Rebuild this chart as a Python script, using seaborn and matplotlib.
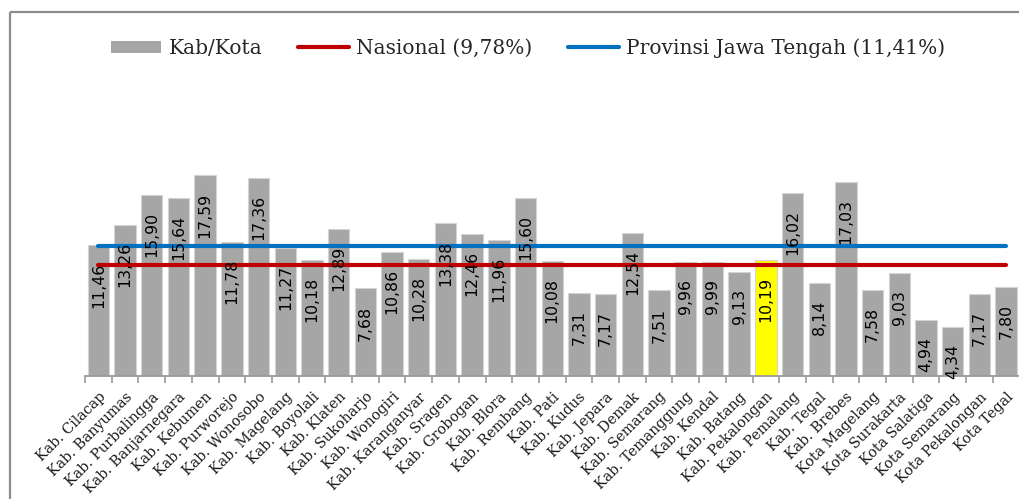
import matplotlib
matplotlib.use("Agg")
import matplotlib.pyplot as plt
import seaborn as sns
import numpy as np
import pandas as pd
from matplotlib.lines import Line2D
from matplotlib.patches import Patch

categories = [
    "Kab. Cilacap", "Kab. Banyumas", "Kab. Purbalingga", "Kab. Banjarnegara",
    "Kab. Kebumen", "Kab. Purworejo", "Kab. Wonosobo", "Kab. Magelang",
    "Kab. Boyolali", "Kab. Klaten", "Kab. Sukoharjo", "Kab. Wonogiri",
    "Kab. Karanganyar", "Kab. Sragen", "Kab. Grobogan", "Kab. Blora",
    "Kab. Rembang", "Kab. Pati", "Kab. Kudus", "Kab. Jepara", "Kab. Demak",
    "Kab. Semarang", "Kab. Temanggung", "Kab. Kendal", "Kab. Batang",
    "Kab. Pekalongan", "Kab. Pemalang", "Kab. Tegal", "Kab. Brebes",
    "Kota Magelang", "Kota Surakarta", "Kota Salatiga", "Kota Semarang",
    "Kota Pekalongan", "Kota Tegal",
]
values = [
    11.46, 13.26, 15.90, 15.64, 17.59, 11.78, 17.36, 11.27, 10.18, 12.89,
    7.68, 10.86, 10.28, 13.38, 12.46, 11.96, 15.60, 10.08, 7.31, 7.17,
    12.54, 7.51, 9.96, 9.99, 9.13, 10.19, 16.02, 8.14, 17.03, 7.58,
    9.03, 4.94, 4.34, 7.17, 7.80,
]
highlight = "Kab. Pekalongan"
nasional = 9.78
provinsi = 11.41
legend_labels = ["Kab/Kota", "Nasional (9,78%)", "Provinsi Jawa Tengah (11,41%)"]

GRAY = "#A6A6A6"
YELLOW = "#FFFF00"
RED = "#C00000"
BLUE = "#0070C0"

sns.set_style("white")

W, H = 1019, 499
fig = plt.figure(figsize=(W / 100, H / 100), dpi=100)
ax = fig.add_axes([85 / W, (H - 376) / H, (1019.5 - 85) / W, (376 - 80) / H])

df = pd.DataFrame({"cat": categories, "val": values})
colors = [YELLOW if c == highlight else GRAY for c in categories]
sns.barplot(data=df, x="cat", y="val", hue="cat", palette=colors, legend=False,
            saturation=1, width=0.8, edgecolor="#D4D4D4", linewidth=0.8,
            ax=ax, zorder=2)

n = len(categories)
ax.plot([0, n - 1], [provinsi, provinsi], color=BLUE, lw=3.0,
        solid_capstyle="round", zorder=3)
ax.plot([0, n - 1], [nasional, nasional], color=RED, lw=3.0,
        solid_capstyle="round", zorder=3)

for i, v in enumerate(values):
    ax.annotate(f"{v:.2f}".replace(".", ","), xy=(i, v), xytext=(0, -17),
                textcoords="offset pixels", rotation=90, ha="center", va="top",
                fontsize=11.3, family="DejaVu Sans", color="black", zorder=4)

ax.set_xlim(-0.5, n - 0.5)
ax.set_ylim(0, (376 - 80) / 11.4)
ax.set_xlabel("")
ax.set_ylabel("")
ax.set_yticks([])
for s in ["top", "right", "left"]:
    ax.spines[s].set_visible(False)
ax.spines["bottom"].set_color("#9A9A9A")
ax.spines["bottom"].set_linewidth(1.3)

ax.set_xticks(range(n))
ax.set_xticklabels(categories, rotation=45, ha="right", va="top",
                   rotation_mode="anchor", family="DejaVu Serif", fontsize=10.3,
                   color="#1A1A1A")
ax.tick_params(axis="x", which="major", length=0, pad=10)
ax.set_xticks(np.arange(-0.5, n, 1.0), minor=True)
ax.tick_params(axis="x", which="minor", length=5, width=1.2, color="#9A9A9A",
               direction="out", bottom=True)

handles = [
    Patch(facecolor=GRAY, edgecolor="none"),
    Line2D([0], [0], color=RED, lw=3.0),
    Line2D([0], [0], color=BLUE, lw=3.0),
]
fig.legend(handles, legend_labels, loc="center", bbox_to_anchor=(528 / W, 1 - 48 / H),
           ncol=3, frameon=False, prop={"family": "DejaVu Serif", "size": 14.5},
           handlelength=2.5, handleheight=0.55, handletextpad=0.35,
           columnspacing=1.8)

# chart border (left and top edges visible)
fig.add_artist(Line2D([9.5 / W, 9.5 / W], [0, 1 - 11.5 / H], color="#8C8C8C",
                      lw=1.6, solid_capstyle="butt"))
fig.add_artist(Line2D([9.5 / W, 1], [1 - 11.5 / H, 1 - 11.5 / H], color="#8C8C8C",
                      lw=1.6, solid_capstyle="butt"))

fig.savefig("out.png", dpi=100, facecolor="white")
